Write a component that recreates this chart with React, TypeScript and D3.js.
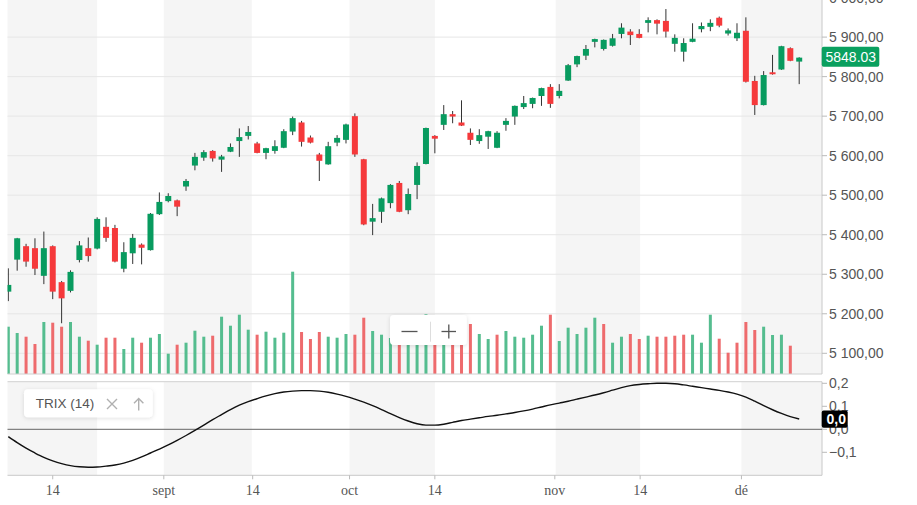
import React from "react";
import * as d3 from "d3";

// daily candles, index 0 = first visible session
const opens = [5256,5337,5371,5366,5296,5371,5280,5258,5336,5366,5365,5420,5417,5314,5353,5375,5361,5452,5485,5487,5522,5575,5595,5612,5590,5610,5637,5650,5631,5607,5612,5620,5661,5684,5646,5603,5578,5633,5640,5700,5591,5433,5458,5480,5531,5462,5526,5579,5650,5678,5705,5684,5658,5637,5648,5620,5678,5699,5723,5731,5751,5774,5751,5790,5831,5853,5888,5870,5878,5908,5914,5908,5936,5943,5941,5883,5863,5888,5920,5926,5949,5909,5897,5916,5789,5728,5811,5818,5872,5838];
const highs = [5315,5392,5377,5391,5408,5373,5283,5310,5384,5393,5444,5444,5425,5381,5402,5378,5455,5507,5505,5489,5541,5607,5614,5614,5602,5631,5669,5675,5635,5620,5639,5667,5699,5688,5651,5607,5635,5652,5681,5707,5592,5478,5494,5528,5536,5517,5583,5671,5652,5728,5713,5740,5669,5667,5663,5662,5695,5727,5751,5747,5772,5781,5781,5832,5853,5880,5896,5894,5908,5935,5920,5920,5950,5945,5971,5907,5897,5935,5937,5945,5952,5922,5935,5950,5802,5814,5855,5878,5874,5849];
const lows = [5232,5309,5319,5298,5275,5237,5176,5254,5330,5332,5363,5382,5330,5305,5326,5325,5360,5450,5482,5447,5511,5563,5587,5585,5559,5609,5597,5641,5606,5591,5605,5619,5652,5623,5631,5536,5577,5624,5631,5597,5424,5399,5430,5467,5457,5452,5490,5578,5606,5665,5682,5675,5627,5630,5617,5619,5663,5678,5718,5720,5726,5721,5745,5789,5824,5842,5874,5866,5876,5897,5880,5897,5912,5907,5899,5863,5838,5887,5912,5915,5925,5904,5890,5785,5703,5727,5805,5817,5839,5781];
const closes = [5273,5391,5332,5314,5366,5256,5239,5306,5373,5346,5440,5392,5332,5356,5392,5367,5453,5483,5498,5471,5536,5597,5609,5593,5598,5622,5647,5660,5607,5619,5624,5662,5695,5635,5633,5587,5624,5645,5679,5603,5426,5442,5492,5526,5458,5503,5574,5670,5643,5705,5699,5676,5640,5652,5662,5658,5688,5726,5733,5746,5771,5731,5764,5829,5852,5870,5895,5893,5897,5924,5905,5898,5943,5934,5914,5898,5885,5896,5928,5936,5929,5917,5911,5787,5728,5804,5806,5877,5840,5848.03];
const volumes = [4730,4100,3730,3000,5200,5130,4730,5200,3730,3330,2930,3630,3630,2500,3630,3130,3630,4000,2030,2930,3130,4330,3730,3830,5730,4830,5930,4430,3930,4230,3630,4130,10230,4200,3500,4200,3730,3630,4000,3930,5630,4300,3930,3600,3000,3400,3600,5970,3800,3600,3500,4000,5000,4000,3500,3930,4300,3730,3630,3930,4830,5930,3300,4630,4000,4630,5630,5000,3130,3730,4000,3500,3830,3730,3730,3830,3930,3930,3130,5930,3530,2130,3130,5200,4400,4730,3900,3930,2830];
const trix = [-0.032,-0.058,-0.082,-0.103,-0.122,-0.137,-0.149,-0.158,-0.163,-0.165,-0.164,-0.16,-0.155,-0.147,-0.135,-0.12,-0.103,-0.086,-0.068,-0.048,-0.027,-0.005,0.018,0.042,0.064,0.086,0.105,0.12,0.133,0.145,0.155,0.162,0.166,0.168,0.168,0.166,0.161,0.153,0.143,0.131,0.118,0.103,0.086,0.068,0.051,0.036,0.024,0.018,0.018,0.022,0.03,0.038,0.044,0.05,0.056,0.061,0.067,0.073,0.08,0.088,0.097,0.106,0.114,0.122,0.131,0.14,0.149,0.159,0.17,0.181,0.19,0.195,0.198,0.2,0.2,0.198,0.193,0.187,0.181,0.175,0.169,0.162,0.153,0.14,0.122,0.103,0.085,0.069,0.055,0.045];

const priceTicks = [5100,5200,5300,5400,5500,5600,5700,5800,5900,6000];
const trixTicks = [-0.1,0,0.1,0.2];
const timeTickPos = [5,17.5,27.5,38.4,48,61.5,71.1,82.5];
const timeTickLabels = ["14","sept","14","oct","14","nov","14","dé"];
const shadeFrom = [-2,17.5,38.4,61.6,82.5];
const shadeTo = [10,27.4,48,71.1,95];
const lastPriceLabel = "5848.03";
const trixName = "TRIX (14)";

const W = 917, H = 505;
const L = 7.5, R = 822;
const mainTop = 0, mainBottom = 374;
const trixTop = 381.7, trixBottom = 475.3;

const GREEN = "#089b5f", RED = "#f5393b";
const VGREEN = "#55bd8f", VRED = "#ee6b6d";

const fr = d3.formatLocale({ decimal: ",", thousands: " ", grouping: [3], currency: ["", ""] });
const fmtPrice = fr.format(",.2f");
const fmtTrix = fr.format(".1f");

export default function App() {
  const x = d3.scaleLinear().domain([0, 89]).range([8.3, 799.2]);
  const y = d3.scaleLinear().domain([5100, 5900]).range([353.3, 37.1]);
  const yVol = d3.scaleLinear().domain([0, d3.max(volumes) as number]).range([mainBottom, 271.7]);
  const yT = d3.scaleLinear().domain([-0.2, 0.2]).range([trixBottom, 383.3]);
  const line = d3.line<number>().x((_, i) => x(i)).y((d) => yT(d)).curve(d3.curveMonotoneX);
  const sans = "'Liberation Sans', Arial, sans-serif";
  const serif = "'Liberation Serif', 'Times New Roman', serif";
  const lastTrix = trix[trix.length - 1];

  return (
    <div style={{ position: "absolute", left: 0, top: 0 }}>
      <svg width={W} height={H} style={{ display: "block", background: "#fff" }}>
        <defs>
          <clipPath id="mainClip"><rect x={L} y={mainTop} width={R - L} height={mainBottom - mainTop} /></clipPath>
          <clipPath id="trixClip"><rect x={L} y={trixTop} width={R - L} height={trixBottom - trixTop} /></clipPath>
          <filter id="shadow" x="-20%" y="-40%" width="140%" height="180%">
            <feDropShadow dx="0" dy="1" stdDeviation="2" floodColor="#000" floodOpacity="0.13" />
          </filter>
        </defs>

        {/* shaded period bands */}
        <g clipPath="url(#mainClip)">
          {shadeFrom.map((s, k) => (
            <rect key={k} x={x(s)} y={mainTop} width={x(shadeTo[k]) - x(s)} height={mainBottom - mainTop} fill="#f5f5f5" />
          ))}
        </g>
        <g clipPath="url(#trixClip)">
          {shadeFrom.map((s, k) => (
            <rect key={k} x={x(s)} y={trixTop} width={x(shadeTo[k]) - x(s)} height={trixBottom - trixTop} fill="#f5f5f5" />
          ))}
        </g>

        {/* price grid */}
        {priceTicks.map((t) => (
          <line key={t} x1={L} x2={R} y1={y(t)} y2={y(t)} stroke="#e6e6e6" strokeWidth={1} />
        ))}

        {/* volume */}
        <g clipPath="url(#mainClip)">
          {volumes.map((v, i) => {
            const up = i === 0 || closes[i] >= closes[i - 1];
            return <rect key={i} x={x(i) - 1.5} y={yVol(v)} width={3} height={mainBottom - yVol(v)} fill={up ? VGREEN : VRED} />;
          })}
        </g>

        {/* candles */}
        <g clipPath="url(#mainClip)">
          {opens.map((o, i) => {
            const c = closes[i];
            const up = c >= o;
            const top = y(Math.max(o, c));
            const h = Math.max(1, y(Math.min(o, c)) - top);
            return (
              <g key={i}>
                <line x1={x(i)} x2={x(i)} y1={y(highs[i])} y2={y(lows[i])} stroke="#333" strokeWidth={1} />
                <rect x={x(i) - 3} y={top} width={6} height={h} fill={up ? GREEN : RED} />
              </g>
            );
          })}
        </g>

        {/* pane borders */}
        <line x1={L} x2={R} y1={mainBottom} y2={mainBottom} stroke="#d0d0d0" />
        <line x1={L} x2={R} y1={trixTop} y2={trixTop} stroke="#d0d0d0" />
        <line x1={L} x2={R} y1={trixBottom} y2={trixBottom} stroke="#c8c8c8" />
        <line x1={R} x2={R} y1={0} y2={mainBottom} stroke="#c8c8c8" />
        <line x1={R} x2={R} y1={trixTop} y2={trixBottom} stroke="#c8c8c8" />

        {/* TRIX */}
        <line x1={L} x2={R} y1={yT(0)} y2={yT(0)} stroke="#666" strokeWidth={1} />
        <path d={line(trix) || ""} fill="none" stroke="#111" strokeWidth={1.4} clipPath="url(#trixClip)" />

        {/* right price axis */}
        {priceTicks.map((t) => (
          <g key={t}>
            <line x1={R} x2={R + 5} y1={y(t)} y2={y(t)} stroke="#bbb" />
            <text x={829} y={y(t) + 5} fontSize={14} fill="#555" fontFamily={sans}>{fmtPrice(t)}</text>
          </g>
        ))}
        {trixTicks.map((t) => (
          <g key={t}>
            <line x1={R} x2={R + 5} y1={yT(t)} y2={yT(t)} stroke="#bbb" />
            <text x={829} y={yT(t) + 5} fontSize={14} fill="#555" fontFamily={sans}>{fmtTrix(t)}</text>
          </g>
        ))}

        {/* last price tag */}
        <rect x={821.7} y={y(closes[closes.length - 1]) - 11} width={57.6} height={20} rx={2} fill="#0aa05f" />
        <text x={825.5} y={y(closes[closes.length - 1]) + 4.5} fontSize={14} fill="#fff" fontFamily={sans}>{lastPriceLabel}</text>

        {/* last TRIX tag */}
        <rect x={821.7} y={yT(lastTrix) - 8.5} width={26} height={17.4} rx={2} fill="#000" />
        <text x={826.5} y={yT(lastTrix) + 5} fontSize={14} fontWeight="bold" fill="#fff" fontFamily={sans}>{fmtTrix(lastTrix)}</text>

        {/* time axis */}
        {timeTickPos.map((p, k) => (
          <g key={k}>
            <line x1={x(p)} x2={x(p)} y1={trixBottom} y2={trixBottom + 4} stroke="#bbb" />
            <text x={x(p)} y={495} textAnchor="middle" fontSize={14} fill="#555" fontFamily={serif}>{timeTickLabels[k]}</text>
          </g>
        ))}

        {/* TRIX legend */}
        <rect x={24} y={389.3} width={128.7} height={28} rx={4} fill="#fff" filter="url(#shadow)" />
        <text x={35.7} y={408} fontSize={13.5} fill="#555" fontFamily={sans}>{trixName}</text>
        <path d="M107,399 L117,409 M117,399 L107,409" stroke="#b0b0b0" strokeWidth={1.4} />
        <path d="M138.7,398.5 L138.7,410.5 M134,403.2 L138.7,398.5 L143.4,403.2" stroke="#b0b0b0" strokeWidth={1.4} fill="none" />

        {/* zoom buttons */}
        <rect x={390} y={315} width={76.7} height={30} rx={4} fill="#fff" filter="url(#shadow)" />
        <line x1={401.5} x2={417.5} y1={331.5} y2={331.5} stroke="#555" strokeWidth={1.3} />
        <line x1={430.5} x2={430.5} y1={321.7} y2={341.7} stroke="#ddd" />
        <line x1={441.5} x2={456} y1={331.5} y2={331.5} stroke="#555" strokeWidth={1.3} />
        <line x1={448.8} x2={448.8} y1={324.5} y2={338.5} stroke="#555" strokeWidth={1.3} />
      </svg>
    </div>
  );
}
